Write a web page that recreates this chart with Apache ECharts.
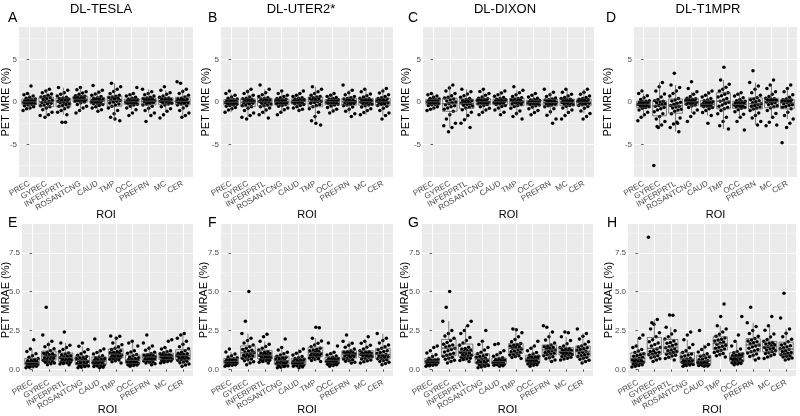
<!DOCTYPE html>
<html>
<head>
<meta charset="utf-8">
<script src="https://cdn.jsdelivr.net/npm/echarts@6/dist/echarts.min.js"></script>
<style>html,body{margin:0;padding:0;background:#fff}#c{width:800px;height:416px}</style>
</head>
<body>
<div id="c"></div>
<script>
const CATS = ['PREC','GYREC','INFERPRTL','ROSANTCNG','CAUD','TMP','OCC','PREFRN','MC','CER'];
const METHODS = ['DL-TESLA','DL-UTER2*','DL-DIXON','DL-T1MPR'];
const LETTERS = ['A','B','C','D','E','F','G','H'];
const MRE_TICKS = [-5, 0, 5];
const MRE_MINOR = [-7.5, -2.5, 2.5, 7.5];
const MRAE_TICKS = [0, 2.5, 5, 7.5];
const MRAE_MINOR = [1.25, 3.75, 6.25, 8.75];
const X_TITLE = 'ROI';
const MRE_TITLE = 'PET MRE (%)';
const MRAE_TITLE = 'PET MRAE (%)';

// PET MRE (%) per ROI
const teslaMRE = [
 [-1.0,-0.8,-0.7,-0.55,-0.45,-0.35,-0.28,-0.22,-0.15,-0.1,-0.05,-0.02,0.02,0.06,0.1,0.16,0.22,0.28,0.35,0.45,0.55,0.7,0.85,1.0,1.9],
 [-1.8,-1.5,-1.2,-0.9,-0.7,-0.55,-0.45,-0.35,-0.25,-0.15,-0.05,0.02,0.1,0.2,0.3,0.4,0.5,0.58,0.65,0.8,0.95,1.1,1.3,1.5,-1.6],
 [-1.5,-1.2,-1.0,-0.8,-0.6,-0.5,-0.4,-0.3,-0.2,-0.1,-0.02,0.04,0.1,0.18,0.25,0.32,0.4,0.48,0.55,0.7,0.9,1.1,1.4,1.7,-2.4,-2.4],
 [-1.3,-1.0,-0.7,-0.5,-0.3,-0.1,0.0,0.08,0.15,0.2,0.25,0.3,0.35,0.42,0.5,0.56,0.62,0.68,0.75,0.9,1.05,1.2,1.45,1.7],
 [-1.1,-0.9,-0.7,-0.55,-0.4,-0.3,-0.22,-0.15,-0.08,0.0,0.05,0.1,0.14,0.2,0.26,0.32,0.38,0.44,0.5,0.65,0.8,0.95,1.15,1.4,1.95],
 [-2.2,-1.8,-1.4,-1.0,-0.7,-0.5,-0.35,-0.25,-0.12,0.0,0.1,0.18,0.25,0.35,0.45,0.52,0.6,0.68,0.8,1.0,1.25,1.5,1.8,2.2,-2.0],
 [-1.6,-1.3,-0.9,-0.7,-0.5,-0.35,-0.28,-0.2,-0.14,-0.08,-0.03,0.0,0.03,0.08,0.12,0.18,0.23,0.28,0.35,0.45,0.55,0.7,0.85,1.0,1.7],
 [-1.6,-1.3,-1.0,-0.75,-0.5,-0.35,-0.25,-0.15,-0.05,0.02,0.07,0.1,0.15,0.22,0.3,0.36,0.42,0.48,0.55,0.7,0.85,1.0,1.2,1.5,-2.3],
 [-1.9,-1.5,-1.1,-0.8,-0.55,-0.35,-0.25,-0.15,-0.05,0.02,0.07,0.1,0.15,0.22,0.3,0.36,0.42,0.48,0.55,0.7,0.9,1.1,1.4,1.8],
 [-1.8,-1.6,-1.3,-1.0,-0.7,-0.45,-0.35,-0.25,-0.18,-0.1,-0.05,0.0,0.05,0.1,0.18,0.25,0.32,0.38,0.45,0.6,0.8,1.0,1.25,1.5,2.4,2.2]
];
const uterMRE = [
 [-1.2,-0.95,-0.8,-0.65,-0.5,-0.42,-0.35,-0.28,-0.2,-0.14,-0.08,-0.05,0.0,0.05,0.1,0.16,0.22,0.28,0.35,0.45,0.6,0.8,1.0,1.3],
 [-2.0,-1.6,-1.3,-1.0,-0.75,-0.55,-0.45,-0.35,-0.25,-0.15,-0.08,-0.03,0.02,0.1,0.18,0.26,0.32,0.38,0.45,0.6,0.8,1.0,1.25,1.5,-1.8],
 [-1.9,-1.5,-1.2,-0.95,-0.7,-0.55,-0.45,-0.35,-0.25,-0.15,-0.07,0.0,0.05,0.12,0.2,0.28,0.35,0.42,0.5,0.65,0.85,1.1,1.5,2.0],
 [-1.5,-1.2,-0.9,-0.7,-0.5,-0.4,-0.3,-0.22,-0.15,-0.1,-0.05,0.0,0.05,0.1,0.16,0.22,0.28,0.33,0.4,0.5,0.65,0.8,1.0,1.3],
 [-1.0,-0.85,-0.7,-0.55,-0.4,-0.3,-0.22,-0.15,-0.08,-0.02,0.02,0.05,0.1,0.15,0.2,0.25,0.3,0.34,0.4,0.5,0.65,0.8,1.0,1.3],
 [-2.7,-2.2,-1.7,-1.2,-0.8,-0.55,-0.4,-0.3,-0.15,-0.05,0.03,0.1,0.18,0.26,0.34,0.42,0.5,0.58,0.65,0.8,1.0,1.2,1.5,1.8,-2.5],
 [-1.3,-1.05,-0.85,-0.65,-0.48,-0.35,-0.27,-0.2,-0.14,-0.08,-0.03,0.0,0.04,0.09,0.14,0.19,0.24,0.28,0.34,0.42,0.52,0.65,0.8,1.0],
 [-1.7,-1.4,-1.1,-0.85,-0.6,-0.45,-0.35,-0.27,-0.18,-0.1,-0.04,0.0,0.06,0.13,0.2,0.28,0.35,0.42,0.5,0.65,0.85,1.1,1.4,2.0],
 [-1.5,-1.25,-1.0,-0.8,-0.6,-0.45,-0.35,-0.27,-0.18,-0.1,-0.04,0.0,0.05,0.12,0.19,0.26,0.32,0.38,0.45,0.6,0.75,0.95,1.2,1.5],
 [-2.0,-1.6,-1.3,-1.0,-0.75,-0.5,-0.4,-0.3,-0.2,-0.12,-0.05,0.0,0.05,0.12,0.2,0.28,0.35,0.42,0.5,0.65,0.85,1.05,1.3,1.6]
];
const dixonMRE = [
 [-1.0,-0.85,-0.7,-0.55,-0.42,-0.33,-0.26,-0.2,-0.14,-0.08,-0.03,0.0,0.04,0.09,0.14,0.19,0.24,0.28,0.34,0.42,0.55,0.7,0.85,1.0],
 [-3.5,-3.0,-2.5,-2.0,-1.5,-1.1,-0.85,-0.7,-0.55,-0.45,-0.32,-0.2,-0.1,0.0,0.12,0.25,0.36,0.46,0.55,0.75,1.0,1.3,1.65,2.0,-2.8],
 [-3.0,-2.5,-2.1,-1.6,-1.2,-0.9,-0.72,-0.6,-0.48,-0.38,-0.28,-0.2,-0.12,-0.04,0.05,0.14,0.22,0.3,0.4,0.55,0.75,0.95,1.2,1.5],
 [-1.5,-1.2,-0.95,-0.75,-0.55,-0.4,-0.3,-0.22,-0.15,-0.08,-0.03,0.0,0.05,0.12,0.18,0.25,0.32,0.38,0.45,0.6,0.8,1.0,1.25,1.5],
 [-1.5,-1.2,-0.95,-0.72,-0.52,-0.4,-0.3,-0.22,-0.15,-0.08,-0.03,0.0,0.05,0.1,0.16,0.22,0.28,0.33,0.4,0.52,0.68,0.85,1.05,1.3],
 [-2.0,-1.7,-1.35,-1.05,-0.75,-0.52,-0.4,-0.3,-0.2,-0.12,-0.05,0.0,0.06,0.13,0.2,0.28,0.35,0.42,0.5,0.65,0.85,1.1,1.4,1.8],
 [-1.5,-1.25,-1.0,-0.8,-0.6,-0.45,-0.36,-0.3,-0.24,-0.18,-0.13,-0.1,-0.06,-0.02,0.03,0.08,0.13,0.18,0.24,0.32,0.45,0.6,0.8,1.0],
 [-2.5,-2.0,-1.55,-1.15,-0.8,-0.55,-0.45,-0.36,-0.28,-0.2,-0.14,-0.1,-0.04,0.03,0.1,0.17,0.23,0.28,0.35,0.48,0.65,0.85,1.15,1.5],
 [-2.0,-1.6,-1.25,-0.95,-0.7,-0.5,-0.4,-0.32,-0.24,-0.16,-0.1,-0.05,0.0,0.07,0.14,0.21,0.27,0.33,0.4,0.52,0.7,0.9,1.15,1.5],
 [-2.0,-1.7,-1.35,-1.05,-0.75,-0.52,-0.4,-0.32,-0.24,-0.16,-0.1,-0.05,0.0,0.07,0.14,0.21,0.27,0.33,0.4,0.52,0.7,0.9,1.15,1.5]
];
const t1mprMRE = [
 [-2.2,-1.8,-1.5,-1.2,-0.95,-0.75,-0.65,-0.56,-0.48,-0.42,-0.36,-0.3,-0.24,-0.17,-0.1,-0.03,0.03,0.08,0.15,0.3,0.5,0.75,1.0,1.3],
 [-3.0,-2.7,-2.3,-2.0,-1.7,-1.4,-1.15,-0.95,-0.8,-0.65,-0.5,-0.4,-0.3,-0.2,-0.1,0.0,0.08,0.16,0.3,0.6,0.95,1.3,1.8,2.3,-7.5,-2.9],
 [-3.5,-3.0,-2.6,-2.4,-1.9,-1.4,-1.1,-0.95,-0.85,-0.72,-0.6,-0.5,-0.4,-0.28,-0.15,-0.02,0.12,0.25,0.4,0.7,1.0,1.3,1.7,2.0,3.4,-2.5],
 [-2.3,-1.7,-1.3,-0.95,-0.65,-0.45,-0.35,-0.27,-0.18,-0.1,-0.04,0.0,0.05,0.12,0.19,0.26,0.32,0.38,0.45,0.65,0.9,1.2,1.6,2.4],
 [-2.5,-1.6,-1.25,-1.0,-0.8,-0.65,-0.56,-0.5,-0.44,-0.38,-0.33,-0.3,-0.24,-0.17,-0.1,-0.02,0.06,0.15,0.25,0.4,0.6,0.8,1.05,1.3],
 [-3.2,-2.8,-2.3,-1.8,-1.4,-1.0,-0.8,-0.65,-0.5,-0.35,-0.18,-0.02,0.1,0.25,0.4,0.6,0.75,0.9,1.1,1.3,1.5,1.75,2.1,2.6,4.1],
 [-2.3,-1.8,-1.45,-1.15,-0.9,-0.75,-0.65,-0.57,-0.5,-0.43,-0.36,-0.3,-0.24,-0.17,-0.1,-0.03,0.03,0.08,0.15,0.3,0.5,0.7,0.9,1.1,-3.3],
 [-2.7,-2.3,-1.9,-1.6,-1.3,-1.0,-0.82,-0.7,-0.6,-0.5,-0.4,-0.3,-0.2,-0.08,0.04,0.16,0.27,0.36,0.5,0.8,1.1,1.5,1.9,2.3,3.7],
 [-2.8,-2.4,-1.8,-1.35,-1.0,-0.7,-0.55,-0.45,-0.33,-0.22,-0.1,0.0,0.06,0.13,0.2,0.26,0.32,0.38,0.45,0.65,0.9,1.2,1.6,2.0,2.6,-2.7],
 [-3.0,-2.5,-2.0,-1.6,-1.2,-0.8,-0.62,-0.52,-0.42,-0.32,-0.2,-0.1,-0.02,0.06,0.13,0.19,0.24,0.28,0.35,0.55,0.85,1.2,1.6,2.0,-4.8]
];
// PET MRAE (%) per ROI
const teslaMRAE = [
 [0.1,0.13,0.16,0.19,0.22,0.24,0.27,0.3,0.32,0.35,0.37,0.4,0.43,0.47,0.51,0.55,0.59,0.63,0.7,0.78,0.88,1.0,1.15,1.3,1.9],
 [0.3,0.36,0.41,0.45,0.49,0.53,0.58,0.63,0.67,0.71,0.75,0.8,0.84,0.88,0.92,0.96,1.0,1.04,1.1,1.2,1.32,1.45,1.6,1.8,2.2,4.0],
 [0.3,0.34,0.38,0.42,0.45,0.48,0.52,0.56,0.6,0.63,0.67,0.7,0.75,0.8,0.84,0.88,0.93,0.98,1.05,1.15,1.28,1.4,1.55,1.7,2.4],
 [0.1,0.14,0.18,0.21,0.25,0.28,0.32,0.37,0.42,0.46,0.5,0.55,0.6,0.65,0.7,0.74,0.78,0.83,0.9,1.0,1.12,1.28,1.48,1.7],
 [0.1,0.14,0.18,0.21,0.25,0.28,0.32,0.36,0.4,0.43,0.47,0.5,0.54,0.58,0.62,0.66,0.7,0.74,0.8,0.88,0.98,1.08,1.2,1.3,1.95],
 [0.4,0.48,0.55,0.6,0.64,0.68,0.72,0.76,0.8,0.83,0.87,0.9,0.94,0.98,1.02,1.06,1.1,1.14,1.2,1.28,1.36,1.45,1.58,1.7,2.0,2.12,2.15],
 [0.2,0.24,0.27,0.3,0.32,0.34,0.37,0.4,0.42,0.45,0.48,0.5,0.54,0.58,0.62,0.66,0.7,0.74,0.8,0.88,0.96,1.04,1.12,1.2,1.5,1.7,1.8],
 [0.3,0.36,0.41,0.45,0.49,0.53,0.57,0.61,0.64,0.68,0.72,0.75,0.79,0.82,0.85,0.88,0.91,0.94,1.0,1.1,1.22,1.35,1.5,1.7,2.2],
 [0.4,0.45,0.5,0.53,0.56,0.59,0.62,0.66,0.7,0.73,0.77,0.8,0.83,0.86,0.88,0.9,0.92,0.94,1.0,1.06,1.13,1.2,1.3,1.4,1.8,1.9],
 [0.2,0.28,0.35,0.42,0.47,0.52,0.58,0.63,0.67,0.71,0.76,0.8,0.84,0.88,0.92,0.96,1.0,1.04,1.1,1.2,1.32,1.45,1.62,1.8,2.0,2.2,2.3]
];
const uterMRAE = [
 [0.2,0.23,0.26,0.29,0.31,0.33,0.36,0.39,0.42,0.45,0.47,0.5,0.53,0.56,0.59,0.62,0.65,0.68,0.74,0.8,0.88,0.98,1.12,1.3],
 [0.3,0.4,0.48,0.55,0.61,0.67,0.72,0.77,0.82,0.86,0.9,0.95,1.0,1.06,1.12,1.18,1.23,1.28,1.35,1.45,1.57,1.7,1.85,2.0,2.3,3.1,5.0],
 [0.4,0.46,0.51,0.55,0.59,0.63,0.67,0.71,0.75,0.78,0.82,0.85,0.89,0.93,0.97,1.01,1.05,1.09,1.15,1.24,1.35,1.47,1.62,1.8,2.1,2.25],
 [0.1,0.14,0.18,0.21,0.25,0.28,0.32,0.36,0.4,0.43,0.47,0.5,0.55,0.6,0.65,0.7,0.74,0.78,0.84,0.92,1.0,1.1,1.25,1.4,1.95],
 [0.1,0.15,0.19,0.23,0.26,0.28,0.31,0.34,0.37,0.4,0.43,0.45,0.49,0.53,0.57,0.61,0.65,0.69,0.75,0.82,0.92,1.03,1.15,1.3],
 [0.5,0.57,0.63,0.68,0.73,0.77,0.82,0.86,0.9,0.93,0.97,1.0,1.05,1.1,1.15,1.2,1.24,1.28,1.35,1.45,1.56,1.68,1.82,2.0,2.7,2.68],
 [0.2,0.25,0.29,0.32,0.35,0.38,0.41,0.44,0.47,0.5,0.52,0.55,0.57,0.6,0.62,0.64,0.66,0.69,0.73,0.78,0.85,0.92,1.0,1.1,1.5,1.7],
 [0.4,0.46,0.52,0.57,0.62,0.67,0.72,0.77,0.82,0.86,0.9,0.95,0.98,1.01,1.04,1.07,1.1,1.13,1.2,1.3,1.42,1.55,1.68,1.8,2.2],
 [0.4,0.48,0.55,0.6,0.66,0.72,0.77,0.81,0.85,0.88,0.92,0.95,0.98,1.01,1.04,1.07,1.1,1.13,1.2,1.3,1.42,1.55,1.68,1.8,2.1],
 [0.3,0.38,0.45,0.51,0.57,0.62,0.68,0.72,0.77,0.81,0.86,0.9,0.96,1.02,1.08,1.14,1.2,1.26,1.35,1.45,1.57,1.7,1.85,2.0,2.3]
];
const dixonMRAE = [
 [0.2,0.23,0.26,0.29,0.31,0.33,0.37,0.4,0.42,0.45,0.47,0.5,0.52,0.54,0.55,0.57,0.58,0.6,0.65,0.72,0.82,0.93,1.05,1.2,1.4,1.5],
 [0.4,0.5,0.58,0.65,0.71,0.77,0.84,0.9,0.97,1.04,1.12,1.2,1.28,1.36,1.43,1.5,1.56,1.62,1.72,1.85,2.0,2.15,2.3,2.5,3.1,4.0,5.0],
 [0.5,0.57,0.63,0.68,0.72,0.77,0.82,0.86,0.9,0.95,1.0,1.05,1.1,1.15,1.2,1.25,1.3,1.34,1.42,1.55,1.7,1.85,2.05,2.3,2.5,2.8,3.1],
 [0.1,0.15,0.2,0.24,0.28,0.32,0.37,0.42,0.47,0.51,0.56,0.6,0.66,0.72,0.78,0.83,0.88,0.93,1.0,1.1,1.25,1.4,1.6,1.8,2.5],
 [0.2,0.23,0.26,0.29,0.31,0.33,0.36,0.38,0.4,0.42,0.44,0.45,0.48,0.51,0.54,0.57,0.6,0.63,0.68,0.75,0.84,0.94,1.06,1.2,1.6,1.65],
 [0.7,0.76,0.82,0.87,0.92,0.97,1.03,1.08,1.13,1.18,1.24,1.3,1.35,1.4,1.45,1.5,1.55,1.59,1.66,1.78,1.92,2.1,2.35,2.6,2.55],
 [0.2,0.26,0.3,0.34,0.38,0.42,0.46,0.49,0.52,0.55,0.58,0.6,0.65,0.69,0.73,0.77,0.81,0.84,0.9,0.98,1.08,1.2,1.35,1.5,1.8],
 [0.5,0.6,0.68,0.75,0.81,0.87,0.93,0.98,1.04,1.09,1.15,1.2,1.25,1.3,1.35,1.4,1.45,1.49,1.57,1.7,1.88,2.1,2.4,2.8,2.7],
 [0.6,0.66,0.72,0.77,0.82,0.87,0.92,0.96,1.0,1.03,1.07,1.1,1.14,1.18,1.22,1.26,1.3,1.34,1.4,1.5,1.65,1.85,2.1,2.4,2.35],
 [0.4,0.5,0.58,0.65,0.71,0.77,0.83,0.88,0.94,0.99,1.05,1.1,1.16,1.22,1.28,1.33,1.38,1.43,1.5,1.62,1.78,1.95,2.12,2.3,2.6]
];
const t1mprMRAE = [
 [0.15,0.2,0.25,0.3,0.34,0.38,0.42,0.46,0.5,0.53,0.57,0.6,0.66,0.72,0.78,0.84,0.89,0.94,1.0,1.08,1.18,1.28,1.4,1.5,2.0,2.2],
 [0.5,0.6,0.68,0.75,0.81,0.87,0.93,0.99,1.05,1.1,1.15,1.2,1.3,1.4,1.5,1.6,1.7,1.78,1.9,2.1,2.35,2.6,2.9,3.2,8.5,3.0],
 [0.6,0.7,0.78,0.85,0.91,0.97,1.03,1.09,1.15,1.2,1.25,1.3,1.38,1.46,1.54,1.61,1.67,1.73,1.82,1.95,2.1,2.28,2.48,2.7,3.5,3.48],
 [0.2,0.24,0.28,0.31,0.35,0.38,0.42,0.46,0.5,0.53,0.57,0.6,0.66,0.72,0.79,0.86,0.92,0.98,1.08,1.2,1.38,1.6,1.9,2.2,2.4],
 [0.2,0.22,0.24,0.26,0.28,0.3,0.33,0.37,0.41,0.44,0.47,0.5,0.55,0.61,0.67,0.73,0.79,0.84,0.9,1.0,1.12,1.27,1.43,1.6,2.5],
 [0.8,0.88,0.95,1.02,1.09,1.16,1.23,1.3,1.36,1.42,1.48,1.55,1.62,1.69,1.76,1.82,1.88,1.94,2.02,2.12,2.25,2.4,2.6,2.8,3.4,4.2],
 [0.3,0.34,0.38,0.42,0.45,0.49,0.53,0.58,0.62,0.66,0.7,0.75,0.79,0.83,0.87,0.91,0.95,0.99,1.06,1.15,1.3,1.5,1.8,2.2,3.4],
 [0.6,0.72,0.82,0.9,0.98,1.05,1.13,1.2,1.28,1.35,1.43,1.5,1.57,1.64,1.71,1.77,1.83,1.89,1.98,2.12,2.3,2.5,2.75,3.0,4.0],
 [0.7,0.8,0.88,0.95,1.01,1.07,1.13,1.19,1.25,1.3,1.35,1.4,1.46,1.52,1.58,1.63,1.68,1.73,1.8,1.92,2.08,2.28,2.52,2.8,3.4],
 [0.6,0.67,0.73,0.79,0.84,0.88,0.93,0.98,1.04,1.09,1.15,1.2,1.27,1.33,1.39,1.45,1.51,1.57,1.65,1.78,1.93,2.1,2.32,2.6,3.3,4.9]
];

const PANEL_DATA = [teslaMRE, uterMRE, dixonMRE, t1mprMRE, teslaMRAE, uterMRAE, dixonMRAE, t1mprMRAE];

// ---- layout (pixels) ----
const PLOTS = [
 [19,193,27,177],[221,393,27,177],[423,594,27,177],[634,797,27,177],
 [22,193,224,376],[221,393,224,376],[422,593,224,376],[628,796,224,376]
];
const YNAME_X = [4.5,205,405,607,4.5,203,403.5,608];
const TITLE_X = [96,296,500,703];
const LETTER_X = [3,203,403,601,3,203,403,602];
const FONT = 'Liberation Sans, Arial, sans-serif';

function quantile(sorted, p){
  const h = (sorted.length - 1) * p, lo = Math.floor(h);
  const hi = Math.min(lo + 1, sorted.length - 1);
  return sorted[lo] + (h - lo) * (sorted[hi] - sorted[lo]);
}
function boxStats(vals){
  const s = vals.slice().sort((a,b)=>a-b);
  const q1 = quantile(s,0.25), med = quantile(s,0.5), q3 = quantile(s,0.75);
  const iqr = q3 - q1;
  const wlo = s.filter(v => v >= q1 - 1.5*iqr)[0];
  const f = s.filter(v => v <= q3 + 1.5*iqr);
  const whi = f[f.length-1];
  return [q1, med, q3, wlo, whi];
}
function jitter(j, c){
  return ((((j * 37 + c * 11) % 29) / 28) - 0.5) * 0.72;
}

const grids = [], xAxes = [], yAxes = [], series = [], titles = [];
for (let p = 0; p < 8; p++) {
  const [l, r, t, b] = PLOTS[p];
  const isTop = p < 4;
  grids.push({left: l, top: t, width: r - l, height: b - t, show: true,
    backgroundColor: '#ebebeb', borderWidth: 0, containLabel: false, outerBoundsMode: 'none'});
  const ticks = isTop ? MRE_TICKS : MRAE_TICKS;
  const minor = isTop ? MRE_MINOR : MRAE_MINOR;
  const ymin = isTop ? -8.85 : -0.43, ymax = isTop ? 8.85 : 9.35;
  const catIdx = CATS.map((c, i) => i);
  xAxes.push({type: 'value', gridIndex: p, min: -0.6, max: 9.6,
    name: X_TITLE, nameLocation: 'middle', nameGap: isTop ? 32 : 28, nameMoveOverlap: false,
    nameTextStyle: {fontFamily: FONT, fontSize: 11, color: '#000'},
    axisLine: {show: false},
    axisTick: {show: true, length: 2.5, customValues: catIdx, lineStyle: {color: '#333', width: 0.8}},
    axisLabel: {customValues: catIdx, formatter: v => CATS[Math.round(v)], rotate: 30,
      hideOverlap: false, interval: 0, showMinLabel: true, showMaxLabel: true,
      fontFamily: FONT, fontSize: 8, color: '#4d4d4d', margin: 6},
    splitLine: {show: true, lineStyle: {color: '#ffffff', width: 1}}
  });
  yAxes.push({type: 'value', gridIndex: p, min: ymin, max: ymax,
    name: isTop ? MRE_TITLE : MRAE_TITLE, nameLocation: 'middle', nameRotate: 90,
    nameGap: l - YNAME_X[p] - 6.5, nameMoveOverlap: false,
    nameTextStyle: {fontFamily: FONT, fontSize: 11, color: '#000'},
    axisLine: {show: false},
    axisTick: {show: true, length: 2.5, customValues: ticks, lineStyle: {color: '#333', width: 0.8}},
    axisLabel: {customValues: ticks, formatter: v => isTop ? String(v) : v.toFixed(1),
      fontFamily: FONT, fontSize: 8, color: '#4d4d4d', margin: 2},
    splitLine: {show: true, lineStyle: {color: '#ffffff', width: 1}}
  });
  yAxes.push({type: 'value', gridIndex: p, min: ymin, max: ymax, position: 'left',
    axisLine: {show: false}, axisLabel: {show: false},
    axisTick: {show: false, customValues: minor},
    splitLine: {show: true, lineStyle: {color: '#f6f6f6', width: 0.6}}
  });
  const yi = p * 2;
  const pts = [], boxes = [];
  PANEL_DATA[p].forEach((vals, c) => {
    vals.forEach((v, j) => pts.push([c + jitter(j, c), v]));
    boxes.push([c].concat(boxStats(vals)));
  });
  series.push({type: 'scatter', xAxisIndex: p, yAxisIndex: yi, data: pts,
    symbolSize: 3.5, itemStyle: {color: '#000', opacity: 1}, z: 3, silent: true});
  series.push({type: 'custom', xAxisIndex: p, yAxisIndex: yi, data: boxes, z: 4, silent: true,
    renderItem: function(params, api){
      const x = api.value(0), q1 = api.value(1), med = api.value(2), q3 = api.value(3),
            wlo = api.value(4), whi = api.value(5), hw = 0.43;
      const a = api.coord([x - hw, q3]), bb = api.coord([x + hw, q1]);
      const m1 = api.coord([x - hw, med]), m2 = api.coord([x + hw, med]);
      const c3 = api.coord([x, q3]), ch = api.coord([x, whi]);
      const c1 = api.coord([x, q1]), cl = api.coord([x, wlo]);
      const st = {stroke: '#4a4a4a', lineWidth: 0.7, fill: null};
      return {type: 'group', children: [
        {type: 'line', shape: {x1: c3[0], y1: c3[1], x2: ch[0], y2: ch[1]}, style: st},
        {type: 'line', shape: {x1: c1[0], y1: c1[1], x2: cl[0], y2: cl[1]}, style: st},
        {type: 'rect', shape: {x: a[0], y: a[1], width: bb[0] - a[0], height: bb[1] - a[1]}, style: st},
        {type: 'line', shape: {x1: m1[0], y1: m1[1], x2: m2[0], y2: m2[1]}, style: {stroke: '#4a4a4a', lineWidth: 1.1}}
      ]};
    }
  });
  titles.push({text: LETTERS[p], left: LETTER_X[p], top: isTop ? 6 : 211,
    textStyle: {fontFamily: FONT, fontSize: 14, fontWeight: 'normal', color: '#000'}});
}
for (let c = 0; c < 4; c++) {
  titles.push({text: METHODS[c], left: TITLE_X[c], top: -2, textAlign: 'center',
    textStyle: {fontFamily: FONT, fontSize: 13, fontWeight: 'normal', color: '#000'}});
}

const chart = echarts.init(document.getElementById('c'), null, {renderer: 'canvas'});
chart.setOption({
  animation: false,
  backgroundColor: '#ffffff',
  title: titles,
  grid: grids,
  xAxis: xAxes,
  yAxis: yAxes,
  series: series
});
</script>
</body>
</html>
